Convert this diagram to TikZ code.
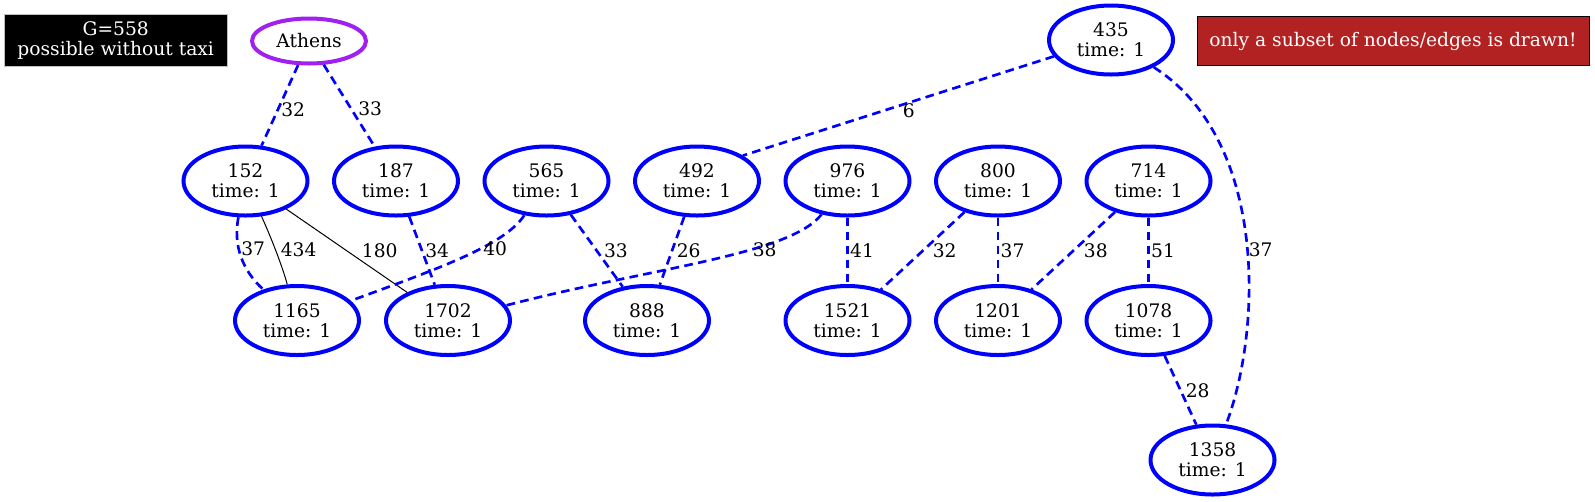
\documentclass[tikz,border=0pt]{standalone}
\usepackage{fontspec}
\setmainfont{DejaVu Serif}
\usetikzlibrary{positioning,shapes.geometric}

\definecolor{linkblue}{RGB}{0,0,255}
\definecolor{hubpurple}{RGB}{160,32,240}
\definecolor{warnred}{RGB}{178,34,34}

\begin{document}
\begin{tikzpicture}[
    x=0.75pt, y=-0.75pt,
    on grid,
    node distance=104.625pt and 112.875pt,
    every node/.style={font=\fontsize{14}{15.2}\selectfont},
    stopnode/.style={draw=linkblue, line width=3pt, ellipse, minimum width=93pt, minimum height=51.75pt, inner sep=0pt, align=center},
    cityhub/.style={draw=hubpurple, line width=3pt, ellipse, minimum width=85.5pt, minimum height=33.75pt, inner sep=0pt},
    walk/.style={draw=linkblue, line width=2pt, dash pattern=on 6.5pt off 4pt},
    taxi/.style={draw=black, line width=0.75pt},
    lbl/.style={anchor=west, inner sep=1pt, text=black},
    infobox/.style={rectangle, align=center, text=white, inner sep=0pt, line width=0.75pt}
]
\useasboundingbox (0,0) rectangle (1595,501);

% info boxes
\node[infobox, fill=black, draw=gray!50, minimum width=167pt, minimum height=38.8pt] (info) at (115.7,40.8) {G=558\\possible without taxi};
\node[infobox, fill=warnred, draw=black, minimum width=294pt, minimum height=36.75pt] (warning) at (1393,41.2) {only a subset of nodes/edges is drawn!};

% start and the far stop
\node[cityhub] (athens) at (309,41) {Athens};
\node[stopnode] (n435) at (1111,40) {435\\time: 1};

% upper row
\node[stopnode] (n152) at (245.5,181) {152\\time: 1};
\node[stopnode, right=of n152] (n187) {187\\time: 1};
\node[stopnode, right=of n187] (n565) {565\\time: 1};
\node[stopnode, right=of n565] (n492) {492\\time: 1};
\node[stopnode, right=of n492] (n976) {976\\time: 1};
\node[stopnode, right=of n976] (n800) {800\\time: 1};
\node[stopnode, right=of n800] (n714) {714\\time: 1};

% lower row
\node[stopnode, below right=104.625pt and 38.625pt of n152] (n1165) {1165\\time: 1};
\node[stopnode, below right=104.625pt and 39pt of n187] (n1702) {1702\\time: 1};
\node[stopnode, below left=104.625pt and 37.5pt of n492] (n888) {888\\time: 1};
\node[stopnode, below=of n976] (n1521) {1521\\time: 1};
\node[stopnode, below=of n800] (n1201) {1201\\time: 1};
\node[stopnode, below=of n714] (n1078) {1078\\time: 1};
\node[stopnode, below right=104.625pt and 48pt of n1078] (n1358) {1358\\time: 1};

% edges from the top
\draw[walk] (athens) -- node[lbl, pos=0.55, xshift=0.5pt] {32} (n152);
\draw[walk] (athens) -- node[lbl, pos=0.54, xshift=3.3pt] {33} (n187);
\draw[walk] (n435.196) -- node[lbl, pos=0.4875, anchor=north west, xshift=-1.5pt, yshift=3pt] {6} (n492.29);
\draw[walk] (n435) .. controls (1268,140) and (1262,330) .. node[lbl, pos=0.53, xshift=-1pt] {37} (n1358);

% edges between the rows
\draw[walk] (n152) .. controls (233,245) and (242,270) .. node[lbl, pos=0.4] {37} (n1165);
\draw[taxi] (n152) .. controls (270,235) and (282,265) .. node[lbl, pos=0.5, xshift=2.5pt] {434} (n1165);
\draw[taxi] (n152) -- node[lbl, pos=0.5, xshift=10pt] {180} (n1702);
\draw[walk] (n187) -- node[lbl, pos=0.5, xshift=0.5pt] {34} (n1702);
\draw[walk] (n565) .. controls (505,245) and (440,268) .. node[lbl, pos=0.4] {40} (n1165);
\draw[walk] (n565) -- node[lbl, pos=0.5, xshift=3.5pt] {33} (n888);
\draw[walk] (n492) -- node[lbl, pos=0.5, xshift=1.6pt] {26} (n888);
\draw[walk] (n976) .. controls (790,255) and (650,268) .. node[lbl, pos=0.36] {38} (n1702);
\draw[walk] (n976) -- node[lbl, pos=0.5] {41} (n1521);
\draw[walk] (n800) -- node[lbl, pos=0.5, xshift=5.5pt] {32} (n1521);
\draw[walk] (n800) -- node[lbl, pos=0.5] {37} (n1201);
\draw[walk] (n714) -- node[lbl, pos=0.5, xshift=6pt] {38} (n1201);
\draw[walk] (n714) -- node[lbl, pos=0.5] {51} (n1078);

% last leg
\draw[walk] (n1078) -- node[lbl, pos=0.5, xshift=2pt] {28} (n1358);

\end{tikzpicture}
\end{document}
